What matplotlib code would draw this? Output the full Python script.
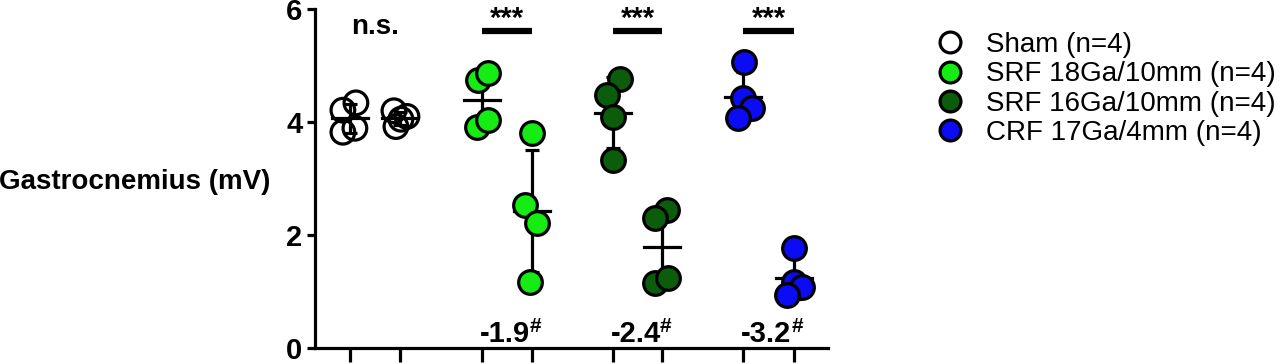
import matplotlib

matplotlib.use("Agg")
import matplotlib.pyplot as plt
import numpy as np
from matplotlib.lines import Line2D

plt.rcParams["font.family"] = ["Liberation Sans", "DejaVu Sans"]

# each column: 4 animals, pre / post pairs
column_values = [
    [4.21, 4.34, 3.82, 3.89],  # sham
    [4.20, 4.10, 3.92, 4.05],  # sham
    [4.74, 4.87, 3.91, 4.04],  # SRF 18Ga pre
    [3.80, 2.53, 2.21, 1.17],  # SRF 18Ga post
    [4.77, 4.48, 4.09, 3.33],  # SRF 16Ga pre
    [2.44, 2.30, 1.15, 1.24],  # SRF 16Ga post
    [5.06, 4.42, 4.25, 4.07],  # CRF pre
    [1.77, 1.17, 1.08, 0.94],  # CRF post
]
column_groups = [0, 0, 1, 1, 2, 2, 3, 3]

group_labels = [
    "Sham (n=4)",
    "SRF 18Ga/10mm (n=4)",
    "SRF 16Ga/10mm (n=4)",
    "CRF 17Ga/4mm (n=4)",
]
group_colors = ["none", "#14ec14", "#0b5c0b", "#0b0bf5"]

change_labels = ["-1.9", "-2.4", "-3.2"]
y_ticks = [0, 2, 4, 6]

# layout
x_positions = [0, 1, 2.64, 3.64, 5.26, 6.24, 7.86, 8.88]
jitter = [
    [-0.14, 0.12, -0.14, 0.1],
    [-0.12, 0.14, -0.08, 0.02],
    [-0.08, 0.12, -0.1, 0.12],
    [0.0, -0.14, 0.1, -0.04],
    [0.14, -0.12, 0.0, 0.0],
    [0.1, -0.14, -0.14, 0.12],
    [0.02, 0.0, 0.18, -0.1],
    [0.0, 0.0, 0.16, -0.14],
]

LW = 2.3


def main():
    fig = plt.figure(figsize=(12.8, 3.64), dpi=100)
    ax = fig.add_axes([0.246, 0.044, 0.401, 0.931])

    for i, vals in enumerate(column_values):
        vals = np.array(vals)
        x0 = x_positions[i]
        color = group_colors[column_groups[i]]
        mean = vals.mean()
        sd = vals.std(ddof=1)

        ax.errorbar(
            x0, mean, yerr=sd,
            fmt="none", ecolor="black", elinewidth=LW,
            capsize=5, capthick=LW, zorder=2,
        )
        ax.plot([x0 - 0.36, x0 + 0.36], [mean, mean], color="black", lw=LW, zorder=2)
        ax.scatter(
            x0 + np.array(jitter[i]), vals,
            s=290, facecolors=color, edgecolors="black", linewidths=LW,
            zorder=3, clip_on=False,
        )

    # significance
    ax.text((x_positions[0] + x_positions[1]) / 2, 5.68, "n.s.",
            ha="center", va="center", fontsize=20, fontweight="bold")
    for g in range(1, 4):
        xa = x_positions[2 * g]
        xb = x_positions[2 * g + 1]
        ax.plot([xa, xb], [5.62, 5.62], color="black", lw=4.5, solid_capstyle="butt")
        ax.text((xa + xb) / 2, 5.82, "***", ha="center", va="center",
                fontsize=21, fontweight="bold")
        ax.text(xa - 0.04, 0.0, change_labels[g - 1], ha="left", va="bottom",
                fontsize=21, fontweight="bold")
        ax.text(xb - 0.05, 0.22, "#", ha="left", va="bottom",
                fontsize=15, fontweight="bold")

    ax.set_xlim(-0.7, 9.56)
    ax.set_ylim(0, 6)
    ax.set_yticks(y_ticks)
    ax.set_xticks(x_positions)
    ax.set_xticklabels([])
    for lab in ax.get_yticklabels():
        lab.set_fontweight("bold")
    ax.tick_params(axis="y", labelsize=21, width=LW, length=6, pad=3)
    ax.tick_params(axis="x", width=LW, length=10)
    for side in ["top", "right"]:
        ax.spines[side].set_visible(False)
    for side in ["left", "bottom"]:
        ax.spines[side].set_linewidth(LW)

    ax.set_ylabel("Gastrocnemius (mV)", rotation=0, fontsize=20,
                  fontweight="bold", ha="left", va="center")
    ax.yaxis.set_label_coords(-0.615, 0.49)

    handles = [
        Line2D([], [], ls="none", marker="o", markersize=15,
               markerfacecolor=c, markeredgecolor="black", markeredgewidth=LW)
        for c in group_colors
    ]
    fig.legend(handles, group_labels, loc="upper left",
               bbox_to_anchor=(0.731, 0.912), frameon=False, fontsize=20,
               handlelength=1.0, handletextpad=0.8, labelspacing=0.12,
               borderpad=0, borderaxespad=0)

    fig.savefig("out.png", dpi=100)


if __name__ == "__main__":
    main()
